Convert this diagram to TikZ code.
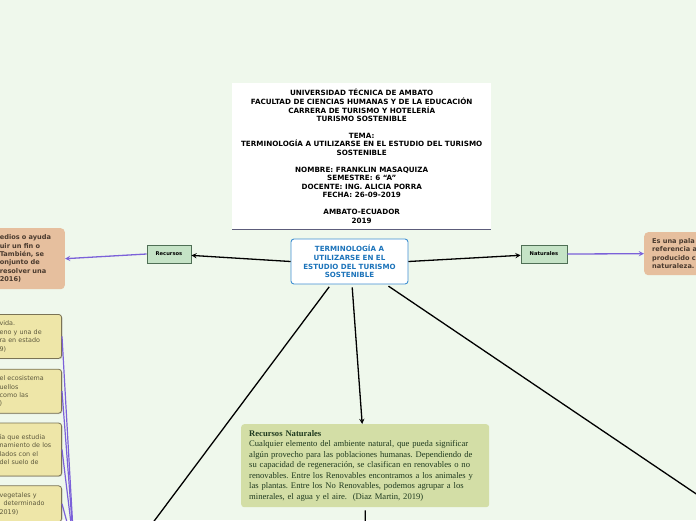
\documentclass[tikz,border=0pt]{standalone}
\usepackage{fontspec}
\setmainfont{DejaVu Sans}
\newfontfamily\rnserif{Liberation Serif}
\usepackage{tikz}
\usetikzlibrary{shapes,arrows,positioning,shadows}
\frenchspacing

\definecolor{bgmap}{HTML}{EFF8EC}
\definecolor{tanfill}{HTML}{E6BF9E}
\definecolor{tantext}{HTML}{4A3A2E}
\definecolor{yellowfill}{HTML}{EEE6A8}
\definecolor{yellowdraw}{HTML}{7A7355}
\definecolor{yellowtext}{HTML}{5E5A3E}
\definecolor{labelfill}{HTML}{C5E3C6}
\definecolor{labeldraw}{HTML}{4F6F55}
\definecolor{rnfill}{HTML}{D3DEA6}
\definecolor{rntext}{HTML}{1F3A1F}
\definecolor{linkpurple}{HTML}{7B61D9}
\definecolor{mainblue}{HTML}{1B73BA}
\definecolor{mainborder}{HTML}{3F8FD2}
\definecolor{titleline}{HTML}{5C5C7A}

\begin{document}
\begin{tikzpicture}[
    x=1pt, y=-1pt,
    >=stealth,
    titlebox/.style={rectangle, fill=white, minimum width=259pt, minimum height=146pt, inner sep=0pt, align=center, font=\fontsize{7.2}{8.6}\selectfont\bfseries},
    central/.style={rectangle, draw=mainborder, line width=0.9pt, fill=white, rounded corners=3pt, minimum width=117pt, minimum height=45pt, inner sep=0pt, align=center, text=mainblue, font=\fontsize{7.1}{8.7}\selectfont\bfseries},
    label/.style={rectangle, draw=labeldraw, line width=0.8pt, fill=labelfill, minimum height=18pt, inner sep=0pt, font=\fontsize{5.2}{6}\selectfont\bfseries, drop shadow={shadow xshift=0.8pt, shadow yshift=-0.8pt, opacity=0.35}},
    tanbox/.style={rectangle, fill=tanfill, rounded corners=4pt, inner ysep=0pt, align=left, text=tantext, font=\fontsize{6.6}{8.4}\selectfont\bfseries},
    yellowbox/.style={rectangle, draw=yellowdraw, line width=0.8pt, fill=yellowfill, rounded corners=3pt, text width=57pt, inner xsep=5pt, inner ysep=0pt, align=left, text=yellowtext, font=\fontsize{6.4}{8.4}\selectfont, drop shadow={shadow xshift=0.8pt, shadow yshift=-0.8pt, opacity=0.3}},
    rnbox/.style={rectangle, fill=rnfill, rounded corners=3pt, text width=232pt, inner xsep=8pt, inner ysep=0pt, minimum height=83pt, align=left, text=rntext, font=\rnserif\fontsize{8.6}{10.5}\selectfont},
    arrow/.style={->, line width=1.3pt},
    purplearrow/.style={->, line width=1.3pt, draw=linkpurple},
    purpleline/.style={line width=1.2pt, draw=linkpurple}
]

\useasboundingbox (0,0) rectangle (696,520);
\fill[bgmap] (0,0) rectangle (696,520);
\clip (0,0) rectangle (696,520);

% Title
\node[titlebox, anchor=north west] (title) at (232,83) {UNIVERSIDAD TÉCNICA DE AMBATO\\FACULTAD DE CIENCIAS HUMANAS Y DE LA EDUCACIÓN\\CARRERA DE TURISMO Y HOTELERÍA\\TURISMO SOSTENIBLE\\[8pt]TEMA:\\TERMINOLOGÍA A UTILIZARSE EN EL ESTUDIO DEL TURISMO\\SOSTENIBLE\\[8pt]NOMBRE: FRANKLIN MASAQUIZA\\SEMESTRE: 6 “A”\\DOCENTE: ING. ALICIA PORRA\\FECHA: 26-09-2019\\[8pt]AMBATO-ECUADOR\\2019};
\draw[titleline, line width=0.8pt] (title.south west) -- (title.south east);

% Central topic
\node[central] (topic) at (349.5,261.5) {TERMINOLOGÍA A\\UTILIZARSE EN EL\\ESTUDIO DEL TURISMO\\SOSTENIBLE};

% Branch labels
\node[label, minimum width=44pt] (recursos) at (169,254) {Recursos};
\node[label, minimum width=46pt] (naturales) at (544,254) {Naturales};

% Definitions
\node[tanbox, anchor=north east, text width=60pt, inner xsep=5pt, minimum height=61pt] (recdef) at (65,228) {edios o ayuda\\uir un fin o\\También, se\\onjunto de\\resolver una\\2016)};
\node[tanbox, anchor=north west, text width=80pt, inner xsep=8pt, minimum height=43pt] (natdef) at (644,232) {Es una pala\\referencia a\\producido c\\naturaleza.};

% Recursos Naturales
\node[rnbox, anchor=north west] (rn) at (241,424) {\textbf{Recursos Naturales}\\Cualquier elemento del ambiente natural, que pueda significar\\algún provecho para las poblaciones humanas. Dependiendo de\\su capacidad de regeneración, se clasifican en renovables o no\\renovables. Entre los Renovables encontramos a los animales y\\las plantas. Entre los No Renovables, podemos agrupar a los\\minerales, el agua y el aire.\ \ (Diaz Martin, 2019)};

% Left column
\node[yellowbox, anchor=north east, minimum height=44pt] (yb1) at (62,314) {vida.\\eno y una de\\ra en estado\\9)};
\node[yellowbox, below=10pt of yb1.south east, anchor=north east, minimum height=44pt] (yb2) {el ecosistema\\uellos\\como las\\)};
\node[yellowbox, below=9pt of yb2.south east, anchor=north east, minimum height=53pt] (yb3) {ía que estudia\\namiento de los\\lados con el\\del suelo de};
\node[yellowbox, below=9pt of yb3.south east, anchor=north east, minimum height=36pt] (yb4) {vegetales y\\\hspace*{4pt}determinado\\2019)};

% Off-frame ends
\coordinate (hubleft) at (74,548);
\coordinate (lowleft) at (125,560);
\coordinate (lowright) at (760,537);
\coordinate (rnbelow) at (365,560);

% Arrows
\draw[arrow] (topic.west) -- (recursos);
\draw[arrow] (topic.east) -- (naturales);
\draw[purplearrow] (recursos.west) -- (recdef.east);
\draw[purplearrow] (naturales.east) -- (natdef.west);
\draw[arrow, shorten <=3pt] ([xshift=2.5pt]topic.south) -- ([xshift=-3pt]rn.north);
\draw[arrow, shorten <=3pt] ([xshift=-18.5pt]topic.south) -- (lowleft);
\draw[arrow, shorten <=3pt] ([xshift=36.5pt]topic.south) -- (lowright);
\draw[line width=1.3pt, shorten <=3pt] (rn.south) -- (rnbelow);
\foreach \b in {yb1,yb2,yb3,yb4}
    \draw[purpleline] (hubleft) -- (\b.east);

\end{tikzpicture}
\end{document}
